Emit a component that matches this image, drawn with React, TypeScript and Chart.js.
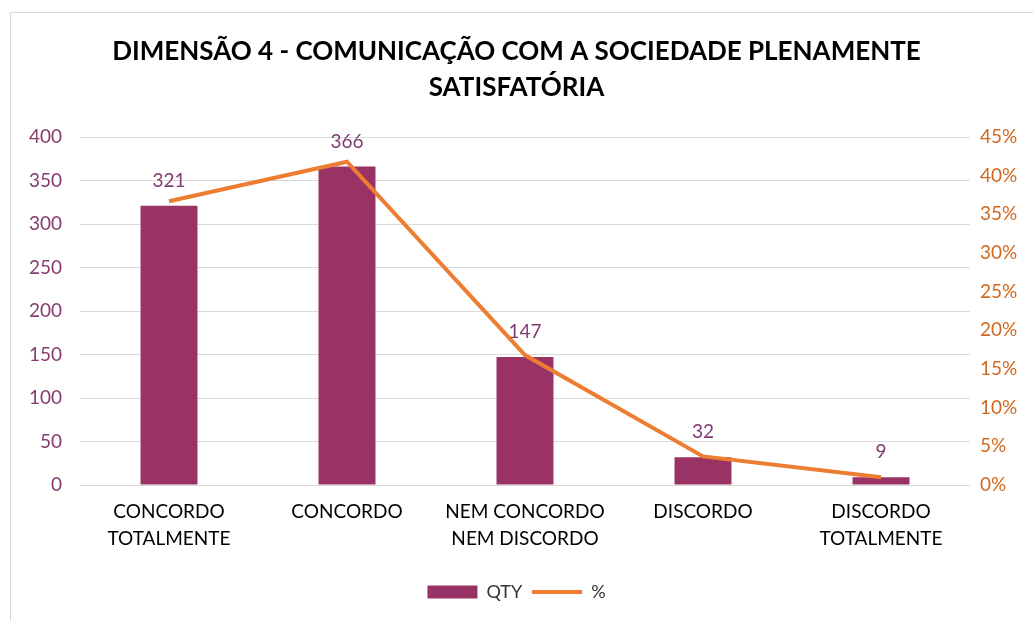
import React, { useEffect, useRef } from "react";
import { Chart, registerables } from "chart.js";

Chart.register(...registerables);

const categories: string[][] = [
  ["CONCORDO", "TOTALMENTE"],
  ["CONCORDO"],
  ["NEM CONCORDO", "NEM DISCORDO"],
  ["DISCORDO"],
  ["DISCORDO", "TOTALMENTE"],
];
const qtyValues = [321, 366, 147, 32, 9];
const pctValues = [36.7, 41.8, 16.8, 3.7, 1.0];
const titleLines = ["DIMENSÃO 4 - COMUNICAÇÃO COM A SOCIEDADE PLENAMENTE", "SATISFATÓRIA"];

const FONT = "Lato, 'Liberation Sans', sans-serif";
const BAR_COLOR = "#993366";
const LINE_COLOR = "#ED7D31";

const dataLabelPlugin = {
  id: "dataLabels",
  afterDatasetsDraw(chart: any) {
    const ctx = chart.ctx;
    const meta = chart.getDatasetMeta(0);
    ctx.save();
    ctx.font = `19px ${FONT}`;
    ctx.fillStyle = "#7E3A73";
    ctx.textAlign = "center";
    ctx.textBaseline = "middle";
    meta.data.forEach((el: any, i: number) => {
      ctx.fillText(String(qtyValues[i]), el.x, el.y - 25);
    });
    ctx.restore();
  },
};

export default function App() {
  const ref = useRef<HTMLCanvasElement>(null);
  useEffect(() => {
    const chart = new Chart(ref.current!, {
      type: "bar",
      data: {
        labels: categories,
        datasets: [
          {
            type: "bar",
            label: "QTY",
            data: qtyValues,
            backgroundColor: BAR_COLOR,
            borderWidth: 0,
            barPercentage: 0.32,
            categoryPercentage: 1,
            yAxisID: "y",
            order: 1,
            pointStyle: "rect",
          } as any,
          {
            type: "line",
            label: "%",
            data: pctValues,
            borderColor: LINE_COLOR,
            backgroundColor: LINE_COLOR,
            borderWidth: 4,
            pointRadius: 0,
            tension: 0,
            yAxisID: "y1",
            order: 0,
            pointStyle: "line",
          } as any,
        ],
      },
      options: {
        animation: false,
        responsive: false,
        layout: { padding: { left: 0, right: 0, top: 0, bottom: 10 } },
        plugins: {
          tooltip: { enabled: false },
          title: {
            display: true,
            text: titleLines,
            color: "#000000",
            font: { family: FONT, size: 26, weight: "bold", lineHeight: 1.385 },
            padding: { top: 34, bottom: 31 },
          },
          legend: {
            position: "bottom",
            labels: {
              usePointStyle: true,
              pointStyleWidth: 50,
              boxHeight: 13,
              color: "#333333",
              font: { family: FONT, size: 18 },
              padding: 10,
              sort: (a: any, b: any) => a.datasetIndex - b.datasetIndex,
            },
          },
        },
        scales: {
          x: {
            grid: { display: false, drawTicks: false },
            border: { display: false },
            ticks: {
              color: "#000000",
              font: { family: FONT, size: 19, lineHeight: 1.45 },
              padding: 13,
              maxRotation: 0,
              autoSkip: false,
            },
            afterFit: (s: any) => {
              s.height = 88;
            },
          },
          y: {
            position: "left",
            min: 0,
            max: 400,
            grid: { color: "#D9D9D9", lineWidth: 1, drawTicks: false },
            border: { display: false },
            ticks: {
              stepSize: 50,
              color: "#863D6E",
              font: { family: FONT, size: 19 },
              padding: 18,
            },
            afterFit: (s: any) => {
              s.width = 80;
            },
          },
          y1: {
            position: "right",
            min: 0,
            max: 45,
            grid: { display: false, drawTicks: false },
            border: { display: false },
            ticks: {
              stepSize: 5,
              color: "#D2691E",
              font: { family: FONT, size: 19 },
              padding: 10,
              callback: (v: any) => v + "%",
            },
            afterFit: (s: any) => {
              s.width = 63;
            },
          },
        },
      },
      plugins: [dataLabelPlugin],
    });
    return () => chart.destroy();
  }, []);

  return (
    <div style={{ position: "absolute", left: 0, top: 0, width: 1033, height: 621, background: "#fff", overflow: "hidden" }}>
      <div
        style={{
          position: "absolute",
          left: 10,
          top: 12,
          width: 1100,
          height: 700,
          borderLeft: "1px solid #D9D9D9",
          borderTop: "1px solid #D9D9D9",
        }}
      />
      <canvas ref={ref} width={1033} height={621} style={{ position: "absolute", left: 0, top: 0 }} />
    </div>
  );
}
